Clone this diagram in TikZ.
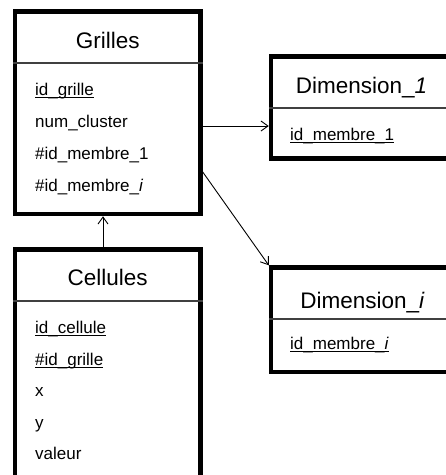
\documentclass[tikz,border=0pt]{standalone}
\usepackage{fontspec}
\setmainfont{Liberation Sans}
\usetikzlibrary{arrows.meta,calc}
\newcommand\ulx[1]{\setbox0\hbox{#1}\rlap{\rule[-2.8pt]{\wd0}{0.9pt}}\box0}
\tikzset{
  tbl/.style={draw=black, line width=4.5pt, fill=white, inner sep=0pt},
  sepline/.style={draw=black!75, line width=1.1pt},
  ttl/.style={inner sep=0pt, anchor=base, font=\fontsize{22.5}{26}\selectfont},
  fld/.style={inner sep=0pt, anchor=base west, font=\fontsize{17}{20}\selectfont},
  arr/.style={-{Straight Barb[length=7pt,width=10pt]}, line width=0.9pt},
}
\begin{document}
\begin{tikzpicture}[x=1pt,y=-1pt]
\useasboundingbox (0,0) rectangle (446,475);
\clip (0,0) rectangle (446,475);
% Grilles
\node[tbl, minimum width=185.5pt, minimum height=202.5pt] (grilles) at (107.75,112.75) {};
\draw[sepline] (grilles.west |- 0,63) -- (grilles.east |- 0,63);
\node[ttl] (gt) at (107.75,48) {Grilles};
\node[fld] (g1) at (35,95) {\ulx{id\_grille}};
\node[fld] (g2) at (35,127) {num\_cluster};
\node[fld] (g3) at (35,159) {\#id\_membre\_1};
\node[fld] (g4) at (35,191) {\#id\_membre\_\textit{i}};
% Cellules
\node[tbl, minimum width=185.5pt, minimum height=250.5pt] (cellules) at (107.75,374.75) {};
\draw[sepline] (cellules.west |- 0,301) -- (cellules.east |- 0,301);
\node[ttl] (ct) at (107.75,285) {Cellules};
\node[fld] (c1) at (35,333) {\ulx{id\_cellule}};
\node[fld] (c2) at (35,365) {\ulx{\#id\_grille}};
\node[fld] (c3) at (35,396) {x};
\node[fld] (c4) at (35,428) {y};
\node[fld] (c5) at (35,459) {valeur};
% Dimension_1
\node[tbl, minimum width=181pt, minimum height=102pt] (dim1) at (361.5,107.5) {};
\draw[sepline] (dim1.west |- 0,108) -- (dim1.east |- 0,108);
\node[ttl] (d1t) at (361.5,93) {Dimension\_\textit{1}};
\node[fld] (d1a) at (290,140) {\ulx{id\_membre\_1}};
% Dimension_i
\node[tbl, minimum width=181pt, minimum height=104.5pt] (dimi) at (361.5,319.75) {};
\draw[sepline] (dimi.west |- 0,319) -- (dimi.east |- 0,319);
\node[ttl] (dit) at (362.5,308) {Dimension\_\textit{i}};
\node[fld] (dia) at (290,349) {\ulx{id\_membre\_\textit{i}}};
% connectors
\draw[arr] (grilles.east |- 0,126) -- (dim1.west |- 0,126);
\draw[arr] (grilles.east |- 0,172) -- (dimi.north west);
\draw[arr] (cellules.north -| 103,0) -- (grilles.south -| 103,0);
\end{tikzpicture}
\end{document}
